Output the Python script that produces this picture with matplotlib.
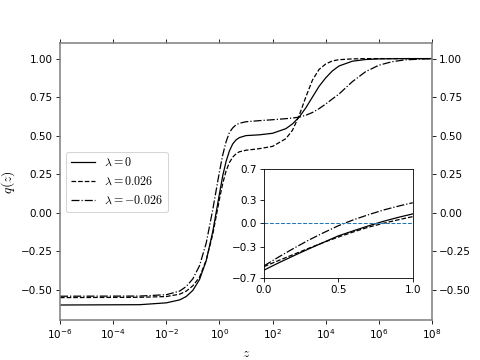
import matplotlib
matplotlib.use("Agg")
import matplotlib.pyplot as plt
import numpy as np

plt.rcParams['mathtext.fontset'] = 'cm'

# log10(z) grid and q(z)
log_z = [-6, -3, -2, -1.5, -1.25, -1, -0.75, -0.5, -0.25, 0, 0.125, 0.25, 0.375, 0.5,
         0.625, 0.75, 1, 1.5, 2, 2.5, 2.75, 3, 3.25, 3.5, 3.75, 4, 4.25, 4.5, 5, 5.5,
         6, 6.5, 7, 8]
q_lam0 = [-0.600, -0.598, -0.586, -0.567, -0.545, -0.505, -0.435, -0.314, -0.123,
          0.121, 0.240, 0.332, 0.400, 0.446, 0.472, 0.487, 0.500, 0.505, 0.515,
          0.545, 0.576, 0.620, 0.680, 0.750, 0.820, 0.875, 0.920, 0.952, 0.983,
          0.994, 0.998, 0.999, 1.0, 1.0]
q_lam_pos = [-0.552, -0.550, -0.545, -0.530, -0.510, -0.475, -0.420, -0.310, -0.140,
             0.087, 0.190, 0.270, 0.325, 0.360, 0.382, 0.395, 0.405, 0.415, 0.430,
             0.480, 0.535, 0.630, 0.750, 0.860, 0.930, 0.965, 0.985, 0.993, 0.998,
             1.0, 1.0, 1.0, 1.0, 1.0]
q_lam_neg = [-0.543, -0.542, -0.533, -0.510, -0.480, -0.430, -0.345, -0.200, 0.020,
             0.265, 0.375, 0.460, 0.520, 0.550, 0.570, 0.580, 0.590, 0.597, 0.603,
             0.610, 0.614, 0.620, 0.632, 0.650, 0.675, 0.705, 0.738, 0.770, 0.850,
             0.915, 0.957, 0.980, 0.992, 1.0]

# inset: linear z in [0, 1]
z_in = [0.0, 0.1, 0.2, 0.3, 0.4, 0.5, 0.6, 0.7, 0.8, 0.9, 1.0]
qi_lam0 = [-0.600, -0.505, -0.415, -0.328, -0.244, -0.160, -0.096, -0.033, 0.025, 0.076, 0.122]
qi_lam_pos = [-0.555, -0.475, -0.398, -0.320, -0.245, -0.175, -0.110, -0.050, 0.000, 0.045, 0.087]
qi_lam_neg = [-0.545, -0.430, -0.320, -0.215, -0.120, -0.030, 0.045, 0.110, 0.170, 0.220, 0.265]

labels = [r'$\lambda=0$', r'$\lambda=0.026$', r'$\lambda=-0.026$']
styles = ['-', '--', '-.']

fig = plt.figure(figsize=(6.4, 4.8), dpi=75)
ax = fig.add_subplot(111)

z = 10.0 ** np.array(log_z)
for q, ls, lab in zip([q_lam0, q_lam_pos, q_lam_neg], styles, labels):
    ax.plot(z, q, ls, color='k', lw=1.2, label=lab)

ax.set_xscale('log')
ax.set_xlim(1e-6, 1e8)
ax.set_ylim(-0.7, 1.1)
ax.set_xticks(10.0 ** np.arange(-6, 9, 2))
ax.xaxis.set_minor_locator(matplotlib.ticker.NullLocator())
ax.set_yticks([-0.5, -0.25, 0, 0.25, 0.5, 0.75, 1.0])
ax.tick_params(top=True, right=True, labelright=True)
for s in ax.spines.values():
    s.set_color('gray')
    s.set_linewidth(1.5)
ax.set_xlabel('$z$', fontsize=13)
ax.set_ylabel('$q(z)$', fontsize=13)
ax.legend(loc='center left', fontsize=11.5)

axin = fig.add_axes([0.55, 0.228, 0.31, 0.303])
for q, ls in zip([qi_lam0, qi_lam_pos, qi_lam_neg], styles):
    axin.plot(z_in, q, ls, color='k', lw=1.2)
axin.axhline(0, ls='--', color='C0', lw=1)
axin.set_xlim(0, 1)
axin.set_ylim(-0.7, 0.7)
axin.set_xticks([0, 0.5, 1.0])
axin.set_yticks([-0.7, -0.3, 0.0, 0.3, 0.7])

fig.savefig('out.png', dpi=75)
